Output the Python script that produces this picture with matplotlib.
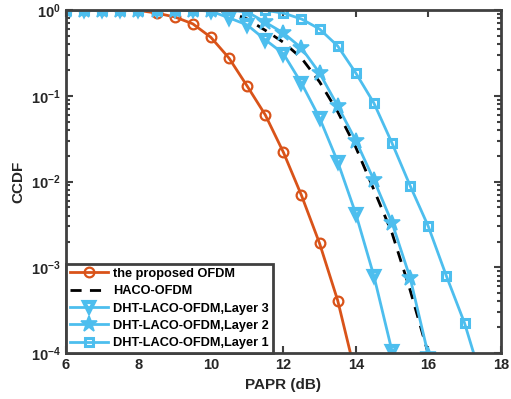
import matplotlib
matplotlib.use('Agg')
import matplotlib.pyplot as plt
import numpy as np
from matplotlib.ticker import FixedLocator, FuncFormatter, LogLocator, NullFormatter

plt.rcParams['font.family'] = 'Liberation Sans'
plt.rcParams['font.weight'] = 'bold'
plt.rcParams['mathtext.fontset'] = 'custom'
plt.rcParams['mathtext.bf'] = 'Liberation Sans:bold'
plt.rcParams['mathtext.rm'] = 'Liberation Sans:bold'

# PAPR (dB) / CCDF
papr_prop = [6, 6.5, 7, 7.5, 8, 8.5, 9, 9.5, 10, 10.5, 11, 11.5, 12, 12.5, 13, 13.5, 14]
ccdf_prop = [1, 1, 1, 1, 0.99, 0.92, 0.83, 0.69, 0.48, 0.275, 0.13, 0.060, 0.022,
             0.0069, 0.0019, 0.00041, 5.5e-5]

papr_haco = [6, 7, 8, 9, 9.5, 10, 10.5, 11, 11.5, 12, 12.5, 13, 13.5, 14, 14.5, 15, 15.5, 16]
ccdf_haco = [1, 1, 1, 1, 1, 0.995, 0.95, 0.785, 0.58, 0.42, 0.275, 0.145, 0.065, 0.025,
             0.0080, 0.0025, 5.4e-4, 0.98e-4]

papr_l3 = [6, 6.5, 7, 7.5, 8, 8.5, 9, 9.5, 10, 10.5, 11, 11.5, 12, 12.5, 13, 13.5, 14, 14.5, 15]
ccdf_l3 = [1, 1, 1, 1, 1, 1, 1, 1, 0.97, 0.81, 0.67, 0.45, 0.31, 0.14, 0.055, 0.017,
           0.0042, 0.00079, 1.05e-4]

papr_l2 = [6, 6.5, 7, 7.5, 8, 8.5, 9, 9.5, 10, 10.5, 11, 11.5, 12, 12.5, 13, 13.5, 14,
           14.5, 15, 15.5, 16]
ccdf_l2 = [1, 1, 1, 1, 1, 1, 1, 1, 1, 0.99, 0.95, 0.72, 0.54, 0.36, 0.184, 0.076, 0.030,
           0.0104, 0.0033, 7.5e-4, 9.5e-5]

papr_l1 = [6, 6.5, 7, 7.5, 8, 8.5, 9, 9.5, 10, 10.5, 11, 11.5, 12, 12.5, 13, 13.5, 14,
           14.5, 15, 15.5, 16, 16.5, 17, 17.5]
ccdf_l1 = [1, 1, 1, 1, 1, 1, 1, 1, 1, 1, 1, 0.99, 0.92, 0.785, 0.60, 0.38, 0.184, 0.082,
           0.028, 0.0089, 0.0030, 7.9e-4, 2.24e-4, 4.5e-5]

orange = '#D95319'
blue = '#4DBEEE'
axcol = '#404040'

fig = plt.figure(figsize=(5.11, 3.99), dpi=100)
ax = fig.add_axes([0.129, 0.115, 0.851, 0.86])

ax.semilogy(papr_prop, ccdf_prop, '-o', color=orange, lw=2, ms=7, mfc='none', mew=1.6,
            label='the proposed OFDM')
ax.semilogy(papr_haco, ccdf_haco, '--', color='black', lw=2, dashes=(4, 3),
            label='HACO-OFDM')
ax.semilogy(papr_l3, ccdf_l3, '-v', color=blue, lw=2, ms=7, mfc='none', mew=3,
            label='DHT-LACO-OFDM,Layer 3')
ax.semilogy(papr_l2, ccdf_l2, '-*', color=blue, lw=2, ms=12, mfc=blue, mew=1.2,
            label='DHT-LACO-OFDM,Layer 2')
ax.semilogy(papr_l1, ccdf_l1, '-s', color=blue, lw=2, ms=5.5, mfc='none', mew=2.2,
            label='DHT-LACO-OFDM,Layer 1')

ax.set_xlim(6, 18)
ax.set_ylim(1e-4, 1)
ax.xaxis.set_major_locator(FixedLocator([6, 8, 10, 12, 14, 16, 18]))
ax.yaxis.set_major_locator(FixedLocator([1e-4, 1e-3, 1e-2, 1e-1, 1]))
ax.yaxis.set_major_formatter(FuncFormatter(lambda v, p: r'$\mathbf{10^{%d}}$' % round(np.log10(v))))
ax.yaxis.set_minor_locator(LogLocator(base=10, subs=np.arange(2, 10)))
ax.yaxis.set_minor_formatter(NullFormatter())

for s in ax.spines.values():
    s.set_linewidth(2)
    s.set_color(axcol)
ax.tick_params(which='both', direction='in', top=True, right=True, colors=axcol,
               labelcolor='#262626', labelsize=10.5, width=1.5)
ax.tick_params(which='major', length=5)
ax.tick_params(which='minor', length=3)

ax.set_xlabel('PAPR (dB)', fontsize=11, fontweight='bold', color='#262626')
ax.set_ylabel('CCDF', fontsize=11, fontweight='bold', color='#262626', labelpad=4)

leg = ax.legend(loc='lower left', fontsize=9.2, fancybox=False, framealpha=1,
                borderaxespad=0.0, handlelength=3.0, handletextpad=0.4,
                labelspacing=0.42, borderpad=0.3)
leg.get_frame().set_edgecolor(axcol)
leg.get_frame().set_linewidth(2)
for t in leg.get_texts():
    t.set_fontweight('bold')

fig.savefig('out.png', dpi=100)
